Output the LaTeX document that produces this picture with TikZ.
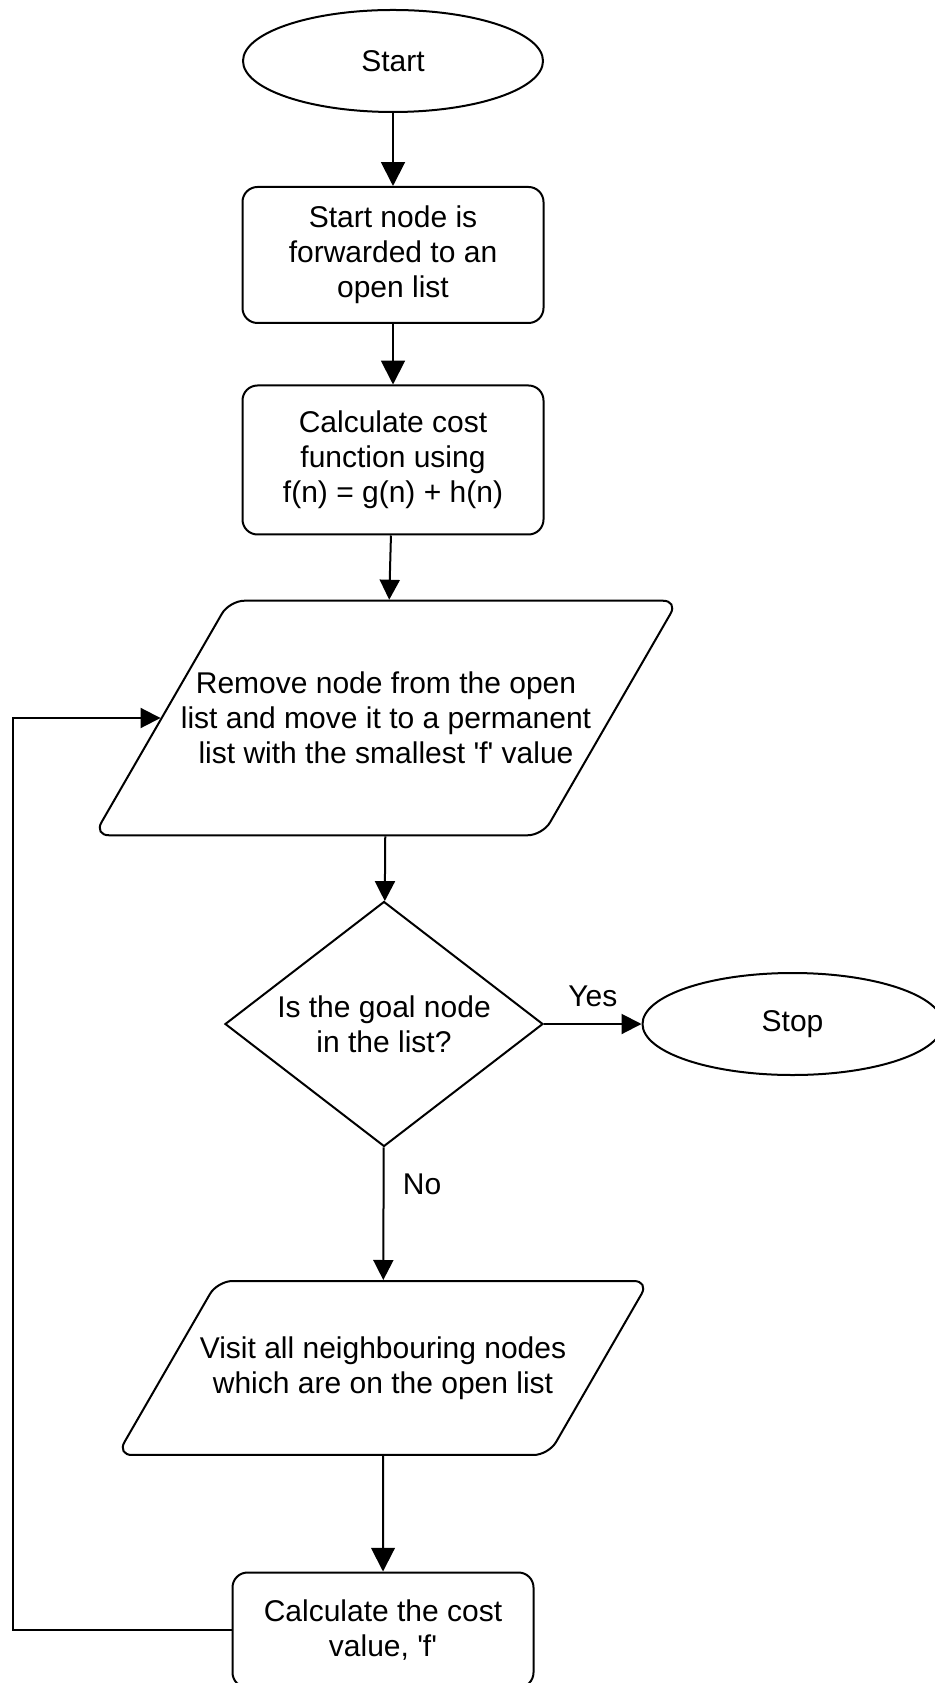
\documentclass[tikz,border=0pt]{standalone}
\usepackage{fontspec}
\setmainfont{Liberation Sans}
\usetikzlibrary{positioning}
\usetikzlibrary{shapes.geometric, arrows.meta}
\tikzstyle{arrow} = [thick,-{Triangle[length=8pt,width=8pt]}]
\tikzstyle{bigarrow} = [thick,-{Triangle[length=9.5pt,width=9.5pt]}]
\tikzstyle{terminal} = [ellipse,draw,thick,minimum width=120pt,minimum height=40.8pt,inner sep=0pt]
\tikzstyle{process} = [rectangle,rounded corners=6pt,draw,thick,minimum width=120.4pt,align=center]
\tikzstyle{io} = [trapezium,trapezium left angle=60,trapezium right angle=120,trapezium stretches body,rounded corners=6pt,draw,thick,inner xsep=-30pt,align=center]
\tikzstyle{decision} = [diamond,draw,thick,aspect=1.3,minimum width=127.2pt,minimum height=98pt,inner sep=0pt,align=center]

\begin{document}
\begin{tikzpicture}[x=0.4pt,y=-0.4pt,font=\fontsize{12}{14}\selectfont]
	\useasboundingbox (0,0) rectangle (934,1683);
	\node[terminal] (start) at (393,61) {Start};
	\node[process,minimum height=54.4pt] (forward) at (393,255) {Start node is\\forwarded to an\\open list};
	\node[process,minimum height=59.6pt] (cost) at (393,460) {Calculate cost\\function using\\f(n) = g(n) + h(n)};
	\node[io,inner ysep=28.5pt,minimum width=233.6pt] (remove) at (386,718) {Remove node from the open\\list and move it to a permanent\\list with the smallest \textquotesingle f\textquotesingle\ value};
	\node[decision] (goal) at (384,1024) {Is the goal node\\in the list?};
	\node[terminal,right=39pt of goal] (stop) {Stop};
	\node[io,inner ysep=22.2pt,minimum width=212.8pt] (visit) at (383,1368) {Visit all neighbouring nodes\\which are on the open list};
	\node[process,minimum height=46pt] (value) at (383,1630) {Calculate the cost\\value, \textquotesingle f\textquotesingle};
	\coordinate (back) at (value.west -| 13,0);
	\draw[bigarrow] (start) -- (forward);
	\draw[bigarrow] (forward) -- (cost);
	\draw[arrow] (cost) -- (remove);
	\draw[arrow] (remove) -- (goal);
	\draw[arrow] (goal) -- node[above=3pt] {Yes} (stop);
	\draw[arrow] (goal) -- node[pos=0.28,right=4pt] {No} (visit);
	\draw[bigarrow] (visit) -- (value);
	% loop back to the open list
	\draw[arrow] (value.west) -- (back) |- (remove.west);
\end{tikzpicture}
\end{document}
